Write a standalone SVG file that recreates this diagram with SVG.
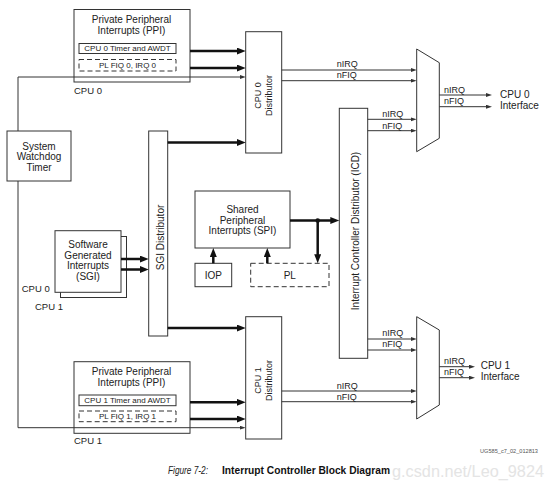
<svg xmlns="http://www.w3.org/2000/svg" width="554" height="487" viewBox="0 0 554 487">
<style>
.box{fill:#fff;stroke:#333;stroke-width:1}
.dash{fill:#fff;stroke:#333;stroke-width:1;stroke-dasharray:5,3}
.t{font-family:"Liberation Sans",Arial,sans-serif;fill:#222}
.f10{font-size:10px}
.f9{font-size:9px}
.f8{font-size:8px}
.mid{text-anchor:middle}
.thick{stroke:#111;stroke-width:2.5;fill:none}
.thin{stroke:#333;stroke-width:1;fill:none}
</style>
<defs>
<marker id="ah" markerUnits="userSpaceOnUse" markerWidth="10" markerHeight="8" refX="3" refY="3.5" orient="auto">
<path d="M0,0 L9,3.5 L0,7 z" fill="#111"/>
</marker>
<marker id="as" markerUnits="userSpaceOnUse" markerWidth="7" markerHeight="5" refX="2" refY="2" orient="auto">
<path d="M0,0 L6,2 L0,4 z" fill="#333"/>
</marker>
</defs>
<rect width="554" height="487" fill="#fff"/>

<g id="ppi0">
<rect class="box" x="74" y="9.5" width="116" height="72.5"/>
<text class="t f10 mid" x="131.5" y="22.5">Private Peripheral</text>
<text class="t f10 mid" x="131.5" y="33.5">Interrupts (PPI)</text>
<rect class="box" x="79" y="43.5" width="97" height="10"/>
<text class="t f8 mid" x="127.5" y="50.8">CPU 0 Timer and AWDT</text>
<rect class="dash" x="79" y="59.5" width="97" height="11.5"/>
<text class="t f8 mid" x="127.5" y="67.5">PL FIQ 0, IRQ 0</text>
</g>
<text class="t" style="font-size:9.5px" x="74" y="94.3">CPU 0</text>

<g id="dist0">
<rect class="box" x="245.7" y="31.7" width="36" height="121.3"/>
<text class="t f9 mid" transform="translate(260.5,95.5) rotate(-90)">CPU 0</text>
<text class="t f9 mid" transform="translate(271.5,95.5) rotate(-90)">Distributor</text>
</g>

<g id="wdt">
<rect class="box" x="7" y="131" width="64" height="50"/>
<text class="t f10 mid" x="39" y="149.5">System</text>
<text class="t f10 mid" x="39" y="160">Watchdog</text>
<text class="t f10 mid" x="39" y="170.5">Timer</text>
</g>

<g id="sgidist">
<rect class="box" x="148.7" y="131" width="19" height="205"/>
<text class="t f10 mid" transform="translate(163.5,237.5) rotate(-90)">SGI Distributor</text>
</g>

<g id="sgi">
<rect class="box" x="60.5" y="236.5" width="66" height="61"/>
<rect class="box" x="55" y="230.7" width="66" height="61.6"/>
<text class="t f10 mid" x="88" y="248">Software</text>
<text class="t f10 mid" x="88" y="258.5">Generated</text>
<text class="t f10 mid" x="88" y="269">Interrupts</text>
<text class="t f10 mid" x="88" y="280">(SGI)</text>
</g>
<text class="t" style="font-size:9.5px" x="21.7" y="292">CPU 0</text>
<text class="t" style="font-size:9.5px" x="35" y="309.5">CPU 1</text>

<g id="spi">
<rect class="box" x="195" y="191" width="95" height="57"/>
<text class="t f10 mid" x="242.5" y="213.2">Shared</text>
<text class="t f10 mid" x="242.5" y="223.5">Peripheral</text>
<text class="t f10 mid" x="242.5" y="234">Interrupts (SPI)</text>
</g>

<g id="iop">
<rect class="box" x="195" y="263.3" width="36.7" height="23.4"/>
<text class="t f10 mid" x="213.3" y="279">IOP</text>
</g>

<g id="pl">
<rect class="dash" x="250.7" y="263.3" width="78.3" height="23.4"/>
<text class="t f10 mid" x="289.8" y="279">PL</text>
</g>

<g id="icd">
<rect class="box" x="339.3" y="108.3" width="28.4" height="250"/>
<text class="t f10 mid" transform="translate(358.5,231) rotate(-90)">Interrupt Controller Distributor (ICD)</text>
</g>

<g id="mux0">
<polygon class="box" points="416.7,49 439.3,62.7 439.3,138.3 416.7,151.7"/>
</g>
<g id="mux1">
<polygon class="box" points="416.7,316.7 439.3,330 439.3,405 416.7,419"/>
</g>

<g id="dist1">
<rect class="box" x="245.7" y="316.7" width="36" height="122.3"/>
<text class="t f9 mid" transform="translate(260.5,380.5) rotate(-90)">CPU 1</text>
<text class="t f9 mid" transform="translate(271.5,380.5) rotate(-90)">Distributor</text>
</g>

<g id="ppi1">
<rect class="box" x="74" y="361.7" width="116" height="71.6"/>
<text class="t f10 mid" x="131.5" y="375">Private Peripheral</text>
<text class="t f10 mid" x="131.5" y="385.8">Interrupts (PPI)</text>
<rect class="box" x="79" y="395" width="97" height="10.7"/>
<text class="t f8 mid" x="127.5" y="402.8">CPU 1 Timer and AWDT</text>
<rect class="dash" x="79" y="411" width="97" height="10.7"/>
<text class="t f8 mid" x="127.5" y="419">PL FIQ 1, IRQ 1</text>
</g>
<text class="t" style="font-size:9.5px" x="74" y="443.8">CPU 1</text>

<g id="cpu0if">
<text class="t f10" x="500" y="97.5">CPU 0</text>
<text class="t f10" x="500" y="109">Interface</text>
</g>
<g id="cpu1if">
<text class="t f10" x="480.7" y="369">CPU 1</text>
<text class="t f10" x="480.7" y="380">Interface</text>
</g>

<g id="connectors">
<line class="thick" x1="190" y1="51" x2="239.7" y2="51" marker-end="url(#ah)"/>
<line class="thick" x1="190" y1="68" x2="239.7" y2="68" marker-end="url(#ah)"/>
<line class="thick" x1="167.7" y1="142.5" x2="239.7" y2="142.5" marker-end="url(#ah)"/>
<line class="thick" x1="167.7" y1="328" x2="239.7" y2="328" marker-end="url(#ah)"/>
<line class="thick" x1="121" y1="259" x2="142.7" y2="259" marker-end="url(#ah)"/>
<line class="thick" x1="121" y1="269.5" x2="142.7" y2="269.5" marker-end="url(#ah)"/>
<line class="thick" x1="290" y1="220.5" x2="333.3" y2="220.5" marker-end="url(#ah)"/>
<line class="thick" x1="317.7" y1="220.5" x2="317.7" y2="257.3" marker-end="url(#ah)"/>
<circle cx="317.7" cy="220.5" r="2.3" fill="#111"/>
<line class="thick" x1="213.3" y1="263.3" x2="213.3" y2="254" marker-end="url(#ah)"/>
<line class="thick" x1="267.3" y1="263.3" x2="267.3" y2="254" marker-end="url(#ah)"/>
<line class="thick" x1="190" y1="402.3" x2="239.7" y2="402.3" marker-end="url(#ah)"/>
<line class="thick" x1="190" y1="419" x2="239.7" y2="419" marker-end="url(#ah)"/>

<path class="thin" d="M18,131 V77 H241.7" marker-end="url(#as)"/>
<path class="thin" d="M18,181 V427.7 H241.7" marker-end="url(#as)"/>

<line class="thin" x1="281.7" y1="70" x2="412.7" y2="70" marker-end="url(#as)"/>
<line class="thin" x1="281.7" y1="80.7" x2="412.7" y2="80.7" marker-end="url(#as)"/>
<line class="thin" x1="367.7" y1="119.3" x2="412.7" y2="119.3" marker-end="url(#as)"/>
<line class="thin" x1="367.7" y1="130.7" x2="412.7" y2="130.7" marker-end="url(#as)"/>
<line class="thin" x1="439.3" y1="95" x2="488" y2="95" marker-end="url(#as)"/>
<line class="thin" x1="439.3" y1="106.7" x2="488" y2="106.7" marker-end="url(#as)"/>
<line class="thin" x1="367.7" y1="339" x2="412.7" y2="339" marker-end="url(#as)"/>
<line class="thin" x1="367.7" y1="350" x2="412.7" y2="350" marker-end="url(#as)"/>
<line class="thin" x1="281.7" y1="391" x2="412.7" y2="391" marker-end="url(#as)"/>
<line class="thin" x1="281.7" y1="401.7" x2="412.7" y2="401.7" marker-end="url(#as)"/>
<line class="thin" x1="439.3" y1="366.7" x2="471" y2="366.7" marker-end="url(#as)"/>
<line class="thin" x1="439.3" y1="377.7" x2="471" y2="377.7" marker-end="url(#as)"/>

<text class="t f9" x="336.7" y="66.5">nIRQ</text>
<text class="t f9" x="336.7" y="77.5">nFIQ</text>
<text class="t f9" x="382.3" y="117">nIRQ</text>
<text class="t f9" x="382.3" y="128.5">nFIQ</text>
<text class="t f9" x="444" y="92.5">nIRQ</text>
<text class="t f9" x="444" y="103.5">nFIQ</text>
<text class="t f9" x="382.3" y="335.5">nIRQ</text>
<text class="t f9" x="382.3" y="346.8">nFIQ</text>
<text class="t f9" x="444" y="363.5">nIRQ</text>
<text class="t f9" x="444" y="374.5">nFIQ</text>
<text class="t f9" x="336.7" y="388.5">nIRQ</text>
<text class="t f9" x="336.7" y="399.5">nFIQ</text>
</g>

<text class="t" style="font-size:6px;fill:#555" x="480" y="453" textLength="58" lengthAdjust="spacingAndGlyphs">UG585_c7_02_012813</text>
<text style="font-family:'Liberation Sans',Arial,sans-serif;font-size:16px;fill:#e4e4e4" x="392" y="476.5" textLength="152" lengthAdjust="spacingAndGlyphs">g.csdn.net/Leo_9824</text>
<text style="font-family:'Liberation Sans',Arial,sans-serif;font-size:10px;font-style:italic;fill:#222" x="168" y="474.3" textLength="40" lengthAdjust="spacingAndGlyphs">Figure 7-2:</text>
<text style="font-family:'Liberation Sans',Arial,sans-serif;font-size:10px;font-weight:bold;fill:#111" x="222" y="474.3" textLength="168" lengthAdjust="spacingAndGlyphs">Interrupt Controller Block Diagram</text>
</svg>
